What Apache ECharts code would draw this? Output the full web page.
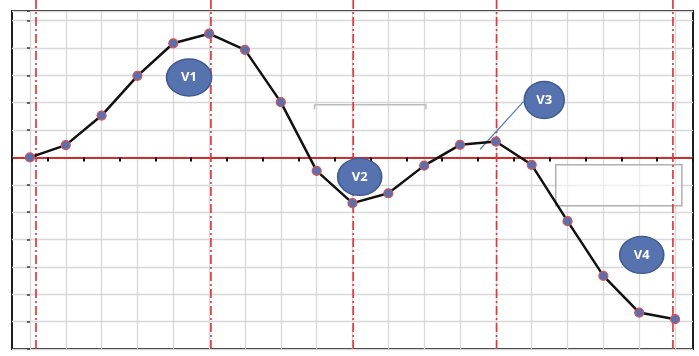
<!DOCTYPE html>
<html>
<head>
<meta charset="utf-8">
<script src="https://cdn.jsdelivr.net/npm/echarts@6/dist/echarts.min.js"></script>
<style>html,body{margin:0;padding:0;background:#fff;}#c{width:699px;height:356px;}</style>
</head>
<body>
<div id="c"></div>
<script>
// ---- data ----
var xIndex = [0,1,2,3,4,5,6,7,8,9,10,11,12,13,14,15,16,17,18];
var values = [0, 0.45, 1.53, 2.98, 4.17, 4.52, 3.93, 2.02, -0.49, -1.67, -1.31, -0.30, 0.46, 0.58, -0.27, -2.33, -4.33, -5.67, -5.91];
var redLineX = [0.17, 5.05, 9.02, 13.02, 17.94];
var bubbleNames = ['V1', 'V2', 'V3', 'V4'];
var bubbleX = [4.44, 9.20, 14.35, 17.07];
var bubbleY = [2.92, -0.71, 2.10, -3.56];
var bubbleSize = [[45, 37], [44, 37], [40, 37], [44, 37]];
var v3Pointer = [[12.56, 0.30], [13.77, 2.04]];
var bracket = [[7.94, 1.76], [7.94, 1.92], [11.05, 1.92], [11.05, 1.76]];
var boxCorners = [[14.67, -0.27], [18.19, -1.77]];

var chart = echarts.init(document.getElementById('c'), null, {renderer: 'canvas'});

var series = [];
series.push({
  type: 'line', xAxisIndex: 0, yAxisIndex: 0, z: 1,
  data: bracket, symbol: 'none', silent: true,
  lineStyle: {color: '#bdbdbd', width: 1.5},
  markArea: {
    silent: true,
    itemStyle: {color: 'rgba(255,255,255,0.55)', borderColor: '#b0b0b0', borderWidth: 1.5},
    data: [[{coord: boxCorners[0]}, {coord: boxCorners[1]}]]
  }
});
redLineX.forEach(function (x) {
  series.push({
    type: 'line', xAxisIndex: 1, yAxisIndex: 1, z: 3,
    data: [[x, -7], [x, 5.76]], symbol: 'none', silent: true,
    lineStyle: {color: '#e2383d', width: 1.7, type: [9, 3, 2, 3]}
  });
});
series.push({
  type: 'line', xAxisIndex: 0, yAxisIndex: 0, z: 4,
  data: v3Pointer, symbol: 'none', silent: true,
  lineStyle: {color: '#5b7fb8', width: 1.3}
});
series.push({
  type: 'line', xAxisIndex: 0, yAxisIndex: 0, z: 5,
  data: xIndex.map(function (x, i) { return [x, values[i]]; }),
  symbol: 'circle', symbolSize: 9,
  lineStyle: {color: '#111', width: 2.5},
  itemStyle: {color: '#5b6fae', borderColor: '#d9534f', borderWidth: 1.2}
});
series.push({
  type: 'scatter', xAxisIndex: 0, yAxisIndex: 0, z: 6,
  data: bubbleNames.map(function (n, i) {
    return {name: n, value: [bubbleX[i], bubbleY[i]], symbolSize: bubbleSize[i]};
  }),
  symbol: 'circle',
  itemStyle: {color: '#5673b0', borderColor: '#3d5a93', borderWidth: 1.5, opacity: 1},
  label: {show: true, position: 'inside', formatter: '{b}', color: '#fff', fontWeight: 'bold', fontSize: 13, fontFamily: 'Open Sans'}
});

chart.setOption({
  animation: false,
  backgroundColor: '#fff',
  grid: [
    {left: 12, right: 6, top: 11, bottom: 7, show: true, borderColor: '#1e1e1e', borderWidth: 2, backgroundColor: 'transparent'},
    {left: 12, right: 6, top: 0, bottom: 7, show: false}
  ],
  xAxis: [
    {gridIndex: 0, type: 'value', min: -0.5, max: 18.5, interval: 1,
     axisLine: {show: true, onZero: true, lineStyle: {color: '#c8302c', width: 2.2}},
     axisTick: {show: true, length: 4, lineStyle: {color: '#111', width: 2}},
     axisLabel: {show: false},
     splitLine: {show: false},
     minorTick: {show: false, splitNumber: 2},
     minorSplitLine: {show: true, lineStyle: {color: '#d8d8d8', width: 1.3}}},
    {gridIndex: 1, type: 'value', min: -0.5, max: 18.5, show: false}
  ],
  yAxis: [
    {gridIndex: 0, type: 'value', min: -7, max: 5.35, interval: 1,
     axisLine: {show: false},
     axisTick: {show: true, length: 3, lineStyle: {color: '#333', width: 1.5}},
     axisLabel: {show: false},
     splitLine: {show: true, lineStyle: {color: '#d8d8d8', width: 1.3}}},
    {gridIndex: 1, type: 'value', min: -7, max: 5.76, show: false}
  ],
  series: series
});
</script>
</body>
</html>
